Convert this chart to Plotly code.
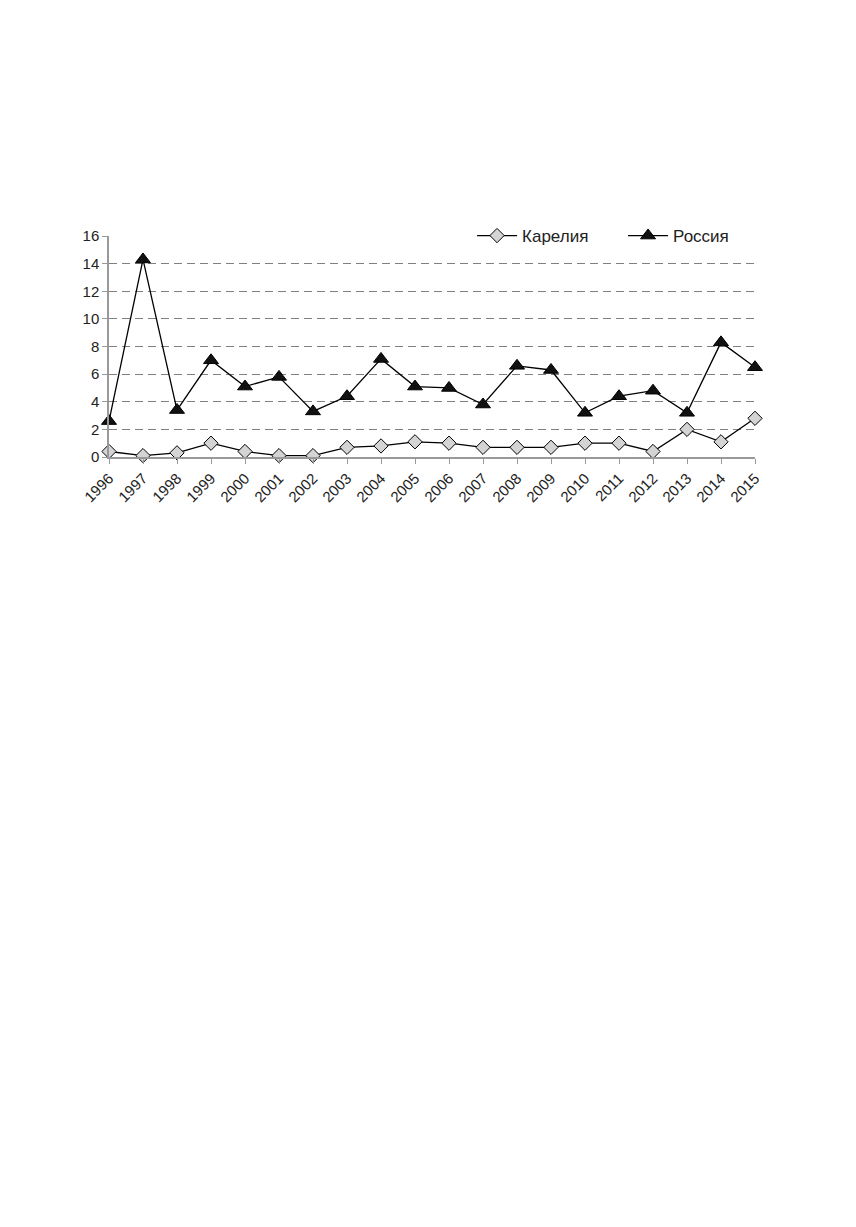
import plotly.graph_objects as go

years = list(range(1996, 2016))
karelia = [0.4, 0.1, 0.3, 1.0, 0.4, 0.1, 0.1, 0.7, 0.8, 1.1,
           1.0, 0.7, 0.7, 0.7, 1.0, 1.0, 0.4, 2.0, 1.1, 2.8]
russia = [2.6, 14.3, 3.4, 7.0, 5.1, 5.8, 3.3, 4.4, 7.1, 5.1,
          5.0, 3.8, 6.6, 6.3, 3.2, 4.4, 4.8, 3.2, 8.3, 6.5]
y_ticks = [0, 2, 4, 6, 8, 10, 12, 14, 16]
grid_vals = [2, 4, 6, 8, 10, 12, 14]

font = "Liberation Sans, Arial, sans-serif"

fig = go.Figure()

# invisible trace on the overlay axis that carries the dashed grid (no line at 16)
fig.add_trace(go.Scatter(x=[years[0]], y=[0], yaxis="y2", showlegend=False,
                         mode="markers", marker=dict(opacity=0), hoverinfo="skip"))

fig.add_trace(go.Scatter(
    x=years, y=karelia, name="Карелия", mode="lines+markers",
    line=dict(color="black", width=1.3),
    marker=dict(symbol="diamond", size=11, color="#d4d4d4",
                line=dict(color="black", width=1)),
    cliponaxis=False,
))
fig.add_trace(go.Scatter(
    x=years, y=russia, name="Россия", mode="lines+markers",
    line=dict(color="black", width=1.3),
    marker=dict(symbol="triangle-up", size=13, color="#111111",
                line=dict(color="black", width=1)),
    cliponaxis=False,
))

fig.update_layout(
    width=856, height=1227,
    paper_bgcolor="white", plot_bgcolor="white",
    margin=dict(l=101, r=109, t=228, b=778),
    font=dict(family=font, size=15, color="#222"),
    showlegend=True,
    legend=dict(orientation="h", x=0.562, xanchor="left", y=1.0, yanchor="middle",
                font=dict(size=17, color="#222"), bgcolor="rgba(0,0,0,0)",
                itemwidth=40, entrywidth=96, traceorder="normal"),
    xaxis=dict(
        range=[1996, 2015], tickvals=years, ticktext=[str(y) for y in years],
        tickangle=-45, showgrid=False, zeroline=False,
        showline=True, linecolor="#999", linewidth=1.5,
        ticks="outside", ticklen=5, tickcolor="#999",
        tickfont=dict(size=15, color="#222"),
    ),
    yaxis=dict(
        range=[0, 16], tickvals=y_ticks, showgrid=False, zeroline=False,
        showline=True, linecolor="#999", linewidth=1.5,
        ticks="outside", ticklen=5, tickcolor="#999",
        tickfont=dict(size=15, color="#222"),
    ),
    yaxis2=dict(
        range=[0, 16], tickvals=grid_vals, overlaying="y", showticklabels=False,
        showgrid=True, gridcolor="#808080", gridwidth=1.2, griddash="8px,5px",
        zeroline=False, showline=False, ticks="",
    ),
)

fig.write_html("out.html")
